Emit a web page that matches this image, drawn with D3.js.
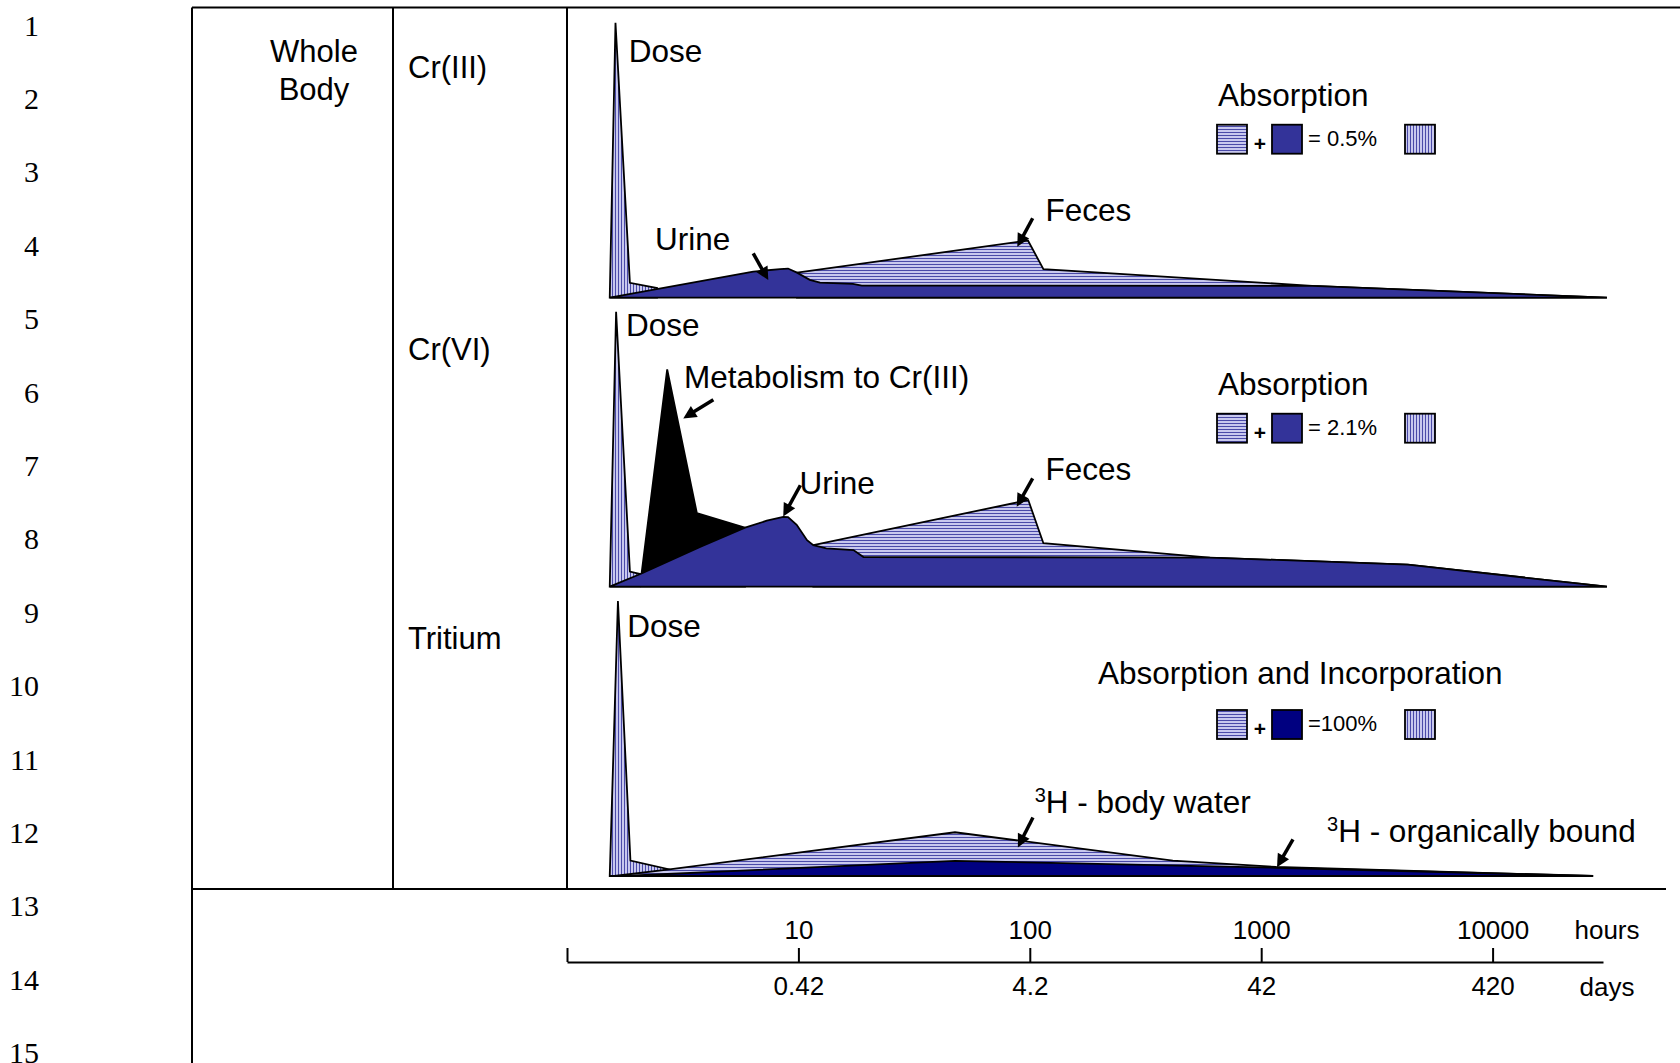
<!DOCTYPE html>
<html>
<head>
<meta charset="utf-8">
<script src="https://cdn.jsdelivr.net/npm/d3@7"></script>
<style>
  body { margin: 0; background: #fff; }
</style>
</head>
<body>
<script>
// canvas
const W = 1680, H = 1063;
const svg = d3.select("body").append("svg")
  .attr("width", W)
  .attr("height", H)
  .style("display", "block")
  .style("background", "#fff");

const sans = "'Liberation Sans', Arial, Helvetica, sans-serif";
const serif = "'Liberation Serif', 'Times New Roman', serif";

// ---------- data ----------
const rowNumbers = [1, 2, 3, 4, 5, 6, 7, 8, 9, 10, 11, 12, 13, 14, 15];
const panelNames = ["Cr(III)", "Cr(VI)", "Tritium"];
const hourTicks = [1, 10, 100, 1000, 10000];
const hourLabels = ["", "10", "100", "1000", "10000"];
const dayLabels = ["", "0.42", "4.2", "42", "420"];

// [hours, relative amount (dose peak = 100)]
const crIIIDose  = [[1.53, 0], [1.62, 100], [1.87, 5.4], [2.45, 3.5]];
const crIIIFeces = [[9.86, 9.1], [98.2, 20.8], [114.5, 10.4], [1660, 4.3], [31200, 0]];
const crIIIUrine = [[1.53, 0], [6.38, 9.5], [8.33, 10.4], [9.02, 10.6], [9.86, 9.1], [11.2, 6.5],
                    [12.4, 5.5], [17.2, 5.0], [18.8, 4.4], [1660, 4.3], [31200, 0]];

const crVIDose  = [[1.53, 0], [1.63, 100], [1.87, 5.5], [2.07, 4.6]];
const crVIMetab = [[2.1, 4.8], [2.71, 79], [3.64, 26.8], [5.88, 21.5]];
const crVIFeces = [[11.6, 15.1], [98.5, 31.5], [114.5, 15.8], [600, 10.6], [4300, 8.0], [31200, 0]];
const crVIUrine = [[1.53, 0], [2.1, 4.8], [3.76, 14.5], [5.88, 21.5], [7.3, 24.0], [8.6, 25.4],
                   [9.02, 25.3], [9.83, 22.5], [10.9, 16.9], [11.6, 15.1], [13.2, 13.9],
                   [17.3, 13.3], [19.1, 10.8], [600, 10.6], [4300, 8.0], [31200, 0]];

const h3Dose      = [[1.53, 0], [1.66, 100], [1.88, 5.6], [2.77, 2.4]];
const h3BodyWater = [[1.6, 0], [2.77, 2.4], [47.5, 15.9], [415, 5.6], [1160, 3.3], [27200, 0]];
const h3Organic   = [[1.73, 0], [47.5, 5.5], [1160, 3.0], [27200, 0]];

// labels placed in data coords: [text, hours, amount]
const crIIILabels = [["Dose", 1.85, 85.7], ["Urine", 2.40, 17.3], ["Feces", 117, 28]];
const crVILabels  = [["Dose", 1.80, 91.2], ["Metabolism to Cr(III)", 3.20, 72.1],
                     ["Urine", 10.1, 33.7], ["Feces", 117, 38.8]];
const h3Labels    = [["Dose", 1.82, 87]];
const h3SupLabels = [["H - body water", 105, 22.8], ["H - organically bound", 1925, 12.5]];

// arrows [fromHours, fromAmount, toHours, toAmount]
const crIIIArrows = [[6.38, 16.1, 7.41, 6.4], [102.9, 28.9, 88.3, 18.5]];
const crVIArrows  = [[4.29, 68, 3.18, 61.2], [10.2, 36.9, 8.6, 25.5], [102.9, 39.4, 87.8, 29.1]];
const h3Arrows    = [[103.2, 21.3, 88.8, 10.4], [1372, 13.3, 1170, 3.2]];

const legendTitles = ["Absorption", "Absorption", "Absorption and Incorporation"];
const legendTotals = ["= 0.5%", "= 2.1%", "=100%"];

// ---------- layout ----------
const frameLeft = 192, frameTop = 7.5, col1 = 393, col2 = 567, bottomLine = 889;
const axisY = 962;
const panelBase = [297.7, 586.7, 876];
const panelHeight = 275;

const x = d3.scaleLog().domain([1, 30000]).range([567, 1603]);
const yScales = panelBase.map(b => d3.scaleLinear().domain([0, 100]).range([b, b - panelHeight]));

// ---------- patterns ----------
const defs = svg.append("defs");
const hatchBg = "#c8c8ee", hatchLine = "#4a4aa8";
const ph = defs.append("pattern").attr("id", "hatchH")
  .attr("patternUnits", "userSpaceOnUse").attr("width", 3).attr("height", 3);
ph.append("rect").attr("width", 3).attr("height", 3).attr("fill", hatchBg);
ph.append("rect").attr("width", 3).attr("height", 1).attr("fill", hatchLine);
const pv = defs.append("pattern").attr("id", "hatchV")
  .attr("patternUnits", "userSpaceOnUse").attr("width", 3).attr("height", 3);
pv.append("rect").attr("width", 3).attr("height", 3).attr("fill", hatchBg);
pv.append("rect").attr("width", 1).attr("height", 3).attr("fill", hatchLine);

// ---------- frame ----------
const frame = svg.append("g").attr("stroke", "#000").attr("stroke-width", 2).attr("fill", "none");
frame.append("line").attr("x1", frameLeft).attr("x2", frameLeft).attr("y1", frameTop).attr("y2", H);
frame.append("line").attr("x1", frameLeft).attr("x2", W).attr("y1", frameTop).attr("y2", frameTop);
frame.append("line").attr("x1", frameLeft).attr("x2", 1666).attr("y1", bottomLine).attr("y2", bottomLine);
frame.append("line").attr("x1", col1).attr("x2", col1).attr("y1", frameTop).attr("y2", bottomLine);
frame.append("line").attr("x1", col2).attr("x2", col2).attr("y1", frameTop).attr("y2", bottomLine);

// row numbers (line numbering in margin)
const rowY = d3.scaleLinear().domain([1, 15]).range([25.7, 1053.2]);
svg.append("g").selectAll("text").data(rowNumbers).join("text")
  .attr("x", 39).attr("y", d => rowY(d) + 10)
  .attr("text-anchor", "end")
  .attr("font-family", serif).attr("font-size", 30)
  .text(d => d);

// left labels
svg.append("text").attr("x", 314).attr("y", 62).attr("text-anchor", "middle")
  .attr("font-family", sans).attr("font-size", 31).text("Whole");
svg.append("text").attr("x", 314).attr("y", 100).attr("text-anchor", "middle")
  .attr("font-family", sans).attr("font-size", 31).text("Body");
const nameOffset = [220, 227, 227];
panelNames.forEach((n, i) => {
  svg.append("text").attr("x", 408).attr("y", panelBase[i] - nameOffset[i])
    .attr("font-family", sans).attr("font-size", 31).text(n);
});

// ---------- panels ----------
function drawArea(g, y, pts, fill) {
  const area = d3.area().x(d => x(d[0])).y0(y(0)).y1(d => y(d[1]));
  g.append("path").datum(pts).attr("d", area)
    .attr("fill", fill).attr("stroke", "#000").attr("stroke-width", 1.8)
    .attr("stroke-linejoin", "miter");
}

function drawArrows(g, y, arrows) {
  arrows.forEach(a => {
    const x1 = x(a[0]), y1 = y(a[1]), x2 = x(a[2]), y2 = y(a[3]);
    const len = Math.hypot(x2 - x1, y2 - y1);
    const ux = (x2 - x1) / len, uy = (y2 - y1) / len;
    const head = 13, half = 6.5;
    const bx = x2 - ux * head, by = y2 - uy * head;
    g.append("line").attr("x1", x1).attr("y1", y1).attr("x2", bx + ux * 2).attr("y2", by + uy * 2)
      .attr("stroke", "#000").attr("stroke-width", 3.5);
    g.append("path")
      .attr("d", `M${x2},${y2}L${bx - uy * half},${by + ux * half}L${bx + uy * half},${by - ux * half}Z`)
      .attr("fill", "#000");
  });
}

function drawLabels(g, y, labels) {
  labels.forEach(l => {
    g.append("text").attr("x", x(l[1])).attr("y", y(l[2]))
      .attr("font-family", sans).attr("font-size", 31.5).text(l[0]);
  });
}

function drawLegend(g, i) {
  const b = panelBase[i];
  const top = i === 2 ? b - 166 : b - 173;
  g.append("text").attr("x", i === 2 ? 1098 : 1218).attr("y", b - 192)
    .attr("font-family", sans).attr("font-size", 31.5).text(legendTitles[i]);
  const boxes = [[1217, "url(#hatchH)"], [1272, i === 2 ? "#000080" : "#333399"], [1405, "url(#hatchV)"]];
  boxes.forEach(bx => {
    g.append("rect").attr("x", bx[0]).attr("y", top).attr("width", 30).attr("height", 29)
      .attr("fill", bx[1]).attr("stroke", "#000").attr("stroke-width", 1.8);
  });
  g.append("text").attr("x", 1260).attr("y", top + 26).attr("text-anchor", "middle")
    .attr("font-family", sans).attr("font-weight", "bold").attr("font-size", 21).text("+");
  g.append("text").attr("x", 1308).attr("y", top + 21)
    .attr("font-family", sans).attr("font-size", 22).text(legendTotals[i]);
}

// Cr(III)
const p1 = svg.append("g"), y1s = yScales[0];
drawArea(p1, y1s, crIIIDose, "url(#hatchV)");
drawArea(p1, y1s, crIIIFeces, "url(#hatchH)");
drawArea(p1, y1s, crIIIUrine, "#333399");
drawArrows(p1, y1s, crIIIArrows);
drawLabels(p1, y1s, crIIILabels);
drawLegend(p1, 0);

// Cr(VI)
const p2 = svg.append("g"), y2s = yScales[1];
drawArea(p2, y2s, crVIDose, "url(#hatchV)");
drawArea(p2, y2s, crVIMetab, "#000");
drawArea(p2, y2s, crVIFeces, "url(#hatchH)");
drawArea(p2, y2s, crVIUrine, "#333399");
drawArrows(p2, y2s, crVIArrows);
drawLabels(p2, y2s, crVILabels);
drawLegend(p2, 1);

// Tritium
const p3 = svg.append("g"), y3s = yScales[2];
drawArea(p3, y3s, h3Dose, "url(#hatchV)");
drawArea(p3, y3s, h3BodyWater, "url(#hatchH)");
drawArea(p3, y3s, h3Organic, "#000080");
drawArrows(p3, y3s, h3Arrows);
drawLabels(p3, y3s, h3Labels);
h3SupLabels.forEach(l => {
  const t = p3.append("text").attr("x", x(l[1])).attr("y", y3s(l[2]))
    .attr("font-family", sans).attr("font-size", 31.5);
  t.append("tspan").attr("font-size", 20).attr("dy", -11).text("3");
  t.append("tspan").attr("dy", 11).text(l[0]);
});
drawLegend(p3, 2);

// ---------- time axis ----------
const axisG = svg.append("g").attr("transform", `translate(0,${axisY})`);
axisG.call(d3.axisTop(x).tickValues(hourTicks).tickSize(14).tickSizeOuter(0).tickPadding(9)
  .tickFormat((d, i) => hourLabels[i]));
axisG.select(".domain").attr("stroke-width", 2);
axisG.selectAll(".tick line").attr("stroke-width", 2);
axisG.selectAll("text").attr("font-family", sans).attr("font-size", 26).attr("fill", "#000");

const dayG = svg.append("g").attr("transform", `translate(0,${axisY})`);
dayG.call(d3.axisBottom(x).tickValues(hourTicks).tickSize(0).tickPadding(15)
  .tickFormat((d, i) => dayLabels[i]));
dayG.select(".domain").remove();
dayG.selectAll("text").attr("font-family", sans).attr("font-size", 26).attr("fill", "#000");

svg.append("text").attr("x", 1607).attr("y", 939).attr("text-anchor", "middle")
  .attr("font-family", sans).attr("font-size", 26).text("hours");
svg.append("text").attr("x", 1607).attr("y", 996).attr("text-anchor", "middle")
  .attr("font-family", sans).attr("font-size", 26).text("days");
</script>
</body>
</html>
